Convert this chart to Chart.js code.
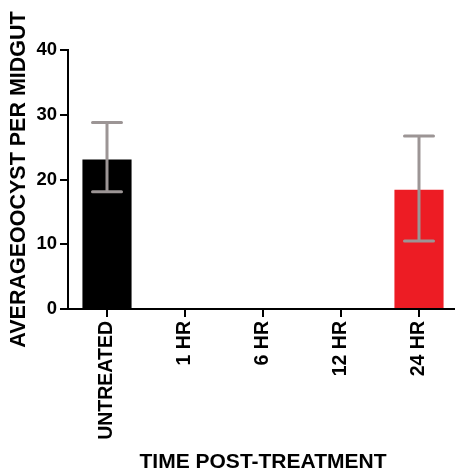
<!DOCTYPE html>
<html>
<head>
<meta charset="utf-8">
<script src="https://cdn.jsdelivr.net/npm/chart.js@4/dist/chart.umd.min.js"></script>
<style>
  html, body { margin: 0; padding: 0; background: #fff; overflow: hidden; width: 455px; height: 473px; }
  canvas { display: block; }
</style>
</head>
<body>
<canvas id="c" width="458" height="473" style="width:458px;height:473px"></canvas>
<script>
const categories = ['UNTREATED', '1 HR', '6 HR', '12 HR', '24 HR'];
const means = [23.1, 0, 0, 0, 18.4];
const errLow = [18.1, null, null, null, 10.5];
const errHigh = [28.8, null, null, null, 26.7];
const barColors = ['#000000', '#000000', '#000000', '#000000', '#ed1c24'];
const yTicks = [0, 10, 20, 30, 40];

const FONT = '"Liberation Sans", Arial, Helvetica, sans-serif';

const errorBars = {
  id: 'errorBars',
  afterDatasetsDraw(chart) {
    const ctx = chart.ctx;
    const meta = chart.getDatasetMeta(0);
    const y = chart.scales.y;
    ctx.save();
    ctx.strokeStyle = '#9c9595';
    ctx.lineWidth = 3;
    meta.data.forEach((bar, i) => {
      if (errLow[i] == null || errHigh[i] == null) return;
      const x = bar.x;
      const yl = y.getPixelForValue(errLow[i]);
      const yh = y.getPixelForValue(errHigh[i]);
      const half = 14.5;
      ctx.lineCap = 'butt';
      ctx.beginPath();
      ctx.moveTo(x, yl); ctx.lineTo(x, yh);
      ctx.stroke();
      ctx.lineCap = 'round';
      ctx.beginPath();
      ctx.moveTo(x - half, yh); ctx.lineTo(x + half, yh);
      ctx.moveTo(x - half, yl); ctx.lineTo(x + half, yl);
      ctx.stroke();
    });
    ctx.restore();
  }
};

new Chart(document.getElementById('c'), {
  type: 'bar',
  data: {
    labels: categories,
    datasets: [{
      data: means,
      backgroundColor: barColors,
      borderWidth: 0,
      barPercentage: 0.63,
      categoryPercentage: 1.0
    }]
  },
  options: {
    responsive: false,
    animation: false,
    devicePixelRatio: 1,
    layout: { padding: { top: 50, right: 0, left: 0, bottom: 0 } },
    plugins: { legend: { display: false }, tooltip: { enabled: false } },
    scales: {
      x: {
        afterFit(scale) { scale.height = 164; },
        grid: { display: true, drawOnChartArea: false, offset: false, tickLength: 8, color: '#000', lineWidth: 2 },
        border: { display: true, color: '#000', width: 2 },
        ticks: {
          autoSkip: false, minRotation: 90, maxRotation: 90, padding: 4,
          color: '#000', font: { family: FONT, size: 19.5, weight: 'bold' }
        },
        title: {
          display: true, text: 'TIME POST-TREATMENT', color: '#000',
          font: { family: FONT, size: 21, weight: 'bold', lineHeight: 1 },
          padding: { top: 0, bottom: 0 }
        }
      },
      y: {
        min: 0, max: 40,
        afterFit(scale) { scale.width = 68; },
        afterBuildTicks(scale) { scale.ticks = yTicks.map(v => ({ value: v })); },
        grid: { display: true, drawOnChartArea: false, tickLength: 8, color: '#000', lineWidth: 2 },
        border: { display: true, color: '#000', width: 2 },
        ticks: {
          padding: 3, color: '#000',
          font: { family: FONT, size: 18.5, weight: 'bold' }
        },
        title: {
          display: true, text: 'AVERAGEOOCYST PER MIDGUT', color: '#000',
          font: { family: FONT, size: 21.5, weight: 'bold', lineHeight: 1 },
          padding: { top: 8, bottom: 0 }
        }
      }
    }
  },
  plugins: [errorBars]
});
</script>
</body>
</html>
